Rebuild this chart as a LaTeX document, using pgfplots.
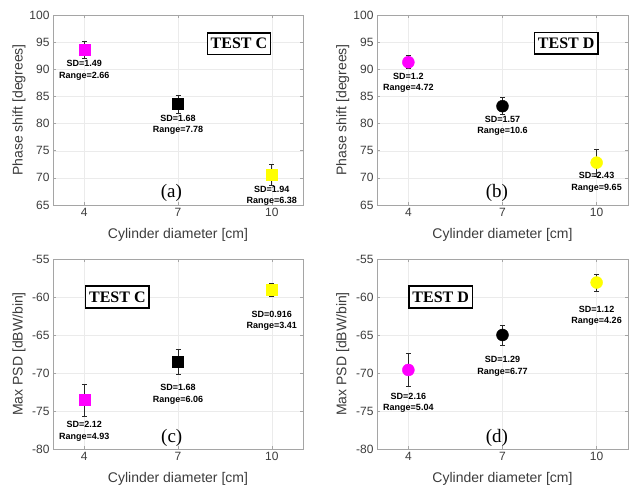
\documentclass[border=0pt]{standalone}
\usepackage{pgfplots}
\pgfplotsset{compat=1.18}
\usepackage{fontspec}
\setmainfont{Liberation Sans}
\newfontfamily\timesf{Liberation Serif}
\definecolor{axgray}{RGB}{165,165,165}
\definecolor{txtgray}{RGB}{60,60,60}
\definecolor{mmag}{RGB}{255,0,255}
\definecolor{myel}{RGB}{255,255,0}
\definecolor{errc}{RGB}{40,40,40}

\pgfplotsset{
 mystyle/.style={
   scale only axis, width=250pt, height=190pt,
   xmin=3, xmax=11, xtick={4,7,10}, xticklabels={4,7,10},
   grid=major, major grid style={gray!16, line width=0.4pt},
   axis line style={axgray, line width=0.6pt},
   tick style={axgray, line width=0.5pt}, major tick length=3pt, tick align=inside,
   ticklabel style={font=\fontsize{12}{12}\selectfont, text=txtgray},
   label style={font=\fontsize{14}{14}\selectfont, text=txtgray},
   xlabel={Cylinder diameter [cm]},
   xlabel style={at={(axis description cs:0.5,-0.158)}, anchor=center},
   ylabel style={at={(axis description cs:-0.136,0.5)}, anchor=center},
   /pgf/number format/assume math mode=true,
   clip=false,
 },
 psy/.style={ymin=65, ymax=100, ytick={65,70,75,80,85,90,95,100}, yticklabels={65,70,75,80,85,90,95,100}, ylabel={Phase shift [degrees]}},
 psd/.style={ymin=-80, ymax=-55, ytick={-80,-75,-70,-65,-60,-55}, yticklabels={-80,-75,-70,-65,-60,-55}, ylabel={Max PSD [dBW/bin]}},
 sq/.style={only marks, mark=square*, mark size=5.5pt, mark options={draw=#1, fill=#1}},
 ci/.style={only marks, mark=*, mark size=6pt, mark options={draw=#1, fill=#1}},
 eb/.style={draw=none, mark=none, forget plot,
   error bars/.cd, y dir=both, y explicit,
   error bar style={draw=errc, line width=0.6pt},
   error mark options={rotate=90, mark size=2.5pt, draw=errc, line width=0.6pt}},
}
\tikzset{
 sdl/.style={font=\bfseries\fontsize{9}{9}\selectfont, text=black, inner sep=0pt},
 testbox/.style={draw=black, line width=1.4pt, fill=white, font=\timesf\bfseries\fontsize{16}{16}\selectfont, inner xsep=3.5pt, inner ysep=5.5pt},
 plab/.style={font=\timesf\fontsize{19}{19}\selectfont, inner sep=0pt},
}

\begin{document}
\begin{tikzpicture}
\useasboundingbox (0,0) rectangle (629pt,487pt);

% (a)
\begin{axis}[mystyle, psy, at={(53pt,282pt)}, anchor=south west]
\addplot[sq=mmag] coordinates {(4,93.6)};
\addplot[sq=black] coordinates {(7,83.6)};
\addplot[sq=myel] coordinates {(10,70.6)};
\addplot[eb] coordinates {(4,93.6) +- (0,1.49) (7,83.6) +- (0,1.68) (10,70.6) +- (0,1.94)};
\node[sdl] at (axis cs:4,91.0) {SD=1.49};
\node[sdl] at (axis cs:4,88.7) {Range=2.66};
\node[sdl] at (axis cs:7,81.0) {SD=1.68};
\node[sdl] at (axis cs:7,78.7) {Range=7.78};
\node[sdl] at (axis cs:10,67.9) {SD=1.94};
\node[sdl] at (axis cs:10,65.7) {Range=6.38};
\node[testbox] at (axis cs:8.95,94.7) {TEST C};
\node[plab] at (axis cs:6.79,67.2) {(a)};
\end{axis}

% (b)
\begin{axis}[mystyle, psy, width=251pt, at={(377pt,282pt)}, anchor=south west]
\addplot[ci=mmag] coordinates {(4,91.3)};
\addplot[ci=black] coordinates {(7,83.2)};
\addplot[ci=myel] coordinates {(10,72.8)};
\addplot[eb] coordinates {(4,91.3) +- (0,1.2) (7,83.2) +- (0,1.57) (10,72.8) +- (0,2.43)};
\node[sdl] at (axis cs:4,88.7) {SD=1.2};
\node[sdl] at (axis cs:4,86.5) {Range=4.72};
\node[sdl] at (axis cs:7,80.7) {SD=1.57};
\node[sdl] at (axis cs:7,78.5) {Range=10.6};
\node[sdl] at (axis cs:10,70.4) {SD=2.43};
\node[sdl] at (axis cs:10,68.0) {Range=9.65};
\node[testbox] at (axis cs:9.03,94.8) {TEST D};
\node[plab] at (axis cs:6.82,67.2) {(b)};
\end{axis}

% (c)
\begin{axis}[mystyle, psd, at={(53pt,38pt)}, anchor=south west]
\addplot[sq=mmag] coordinates {(4,-73.55)};
\addplot[sq=black] coordinates {(7,-68.55)};
\addplot[sq=myel] coordinates {(10,-59.05)};
\addplot[eb] coordinates {(4,-73.55) +- (0,2.12) (7,-68.55) +- (0,1.68) (10,-59.05) +- (0,0.916)};
\node[sdl] at (axis cs:4,-76.7) {SD=2.12};
\node[sdl] at (axis cs:4,-78.45) {Range=4.93};
\node[sdl] at (axis cs:7,-71.85) {SD=1.68};
\node[sdl] at (axis cs:7,-73.55) {Range=6.06};
\node[sdl] at (axis cs:10,-62.25) {SD=0.916};
\node[sdl] at (axis cs:10,-63.9) {Range=3.41};
\node[testbox] at (axis cs:5.06,-60) {TEST C};
\node[plab] at (axis cs:6.8,-78.6) {(c)};
\end{axis}

% (d)
\begin{axis}[mystyle, psd, width=251pt, at={(377pt,38pt)}, anchor=south west]
\addplot[ci=mmag] coordinates {(4,-69.6)};
\addplot[ci=black] coordinates {(7,-65.0)};
\addplot[ci=myel] coordinates {(10,-58.1)};
\addplot[eb] coordinates {(4,-69.6) +- (0,2.16) (7,-65.0) +- (0,1.29) (10,-58.1) +- (0,1.12)};
\node[sdl] at (axis cs:4,-73.05) {SD=2.16};
\node[sdl] at (axis cs:4,-74.6) {Range=5.04};
\node[sdl] at (axis cs:7,-68.25) {SD=1.29};
\node[sdl] at (axis cs:7,-69.85) {Range=6.77};
\node[sdl] at (axis cs:10,-61.65) {SD=1.12};
\node[sdl] at (axis cs:10,-63.15) {Range=4.26};
\node[testbox] at (axis cs:5.03,-60) {TEST D};
\node[plab] at (axis cs:6.82,-78.6) {(d)};
\end{axis}
\end{tikzpicture}
\end{document}
